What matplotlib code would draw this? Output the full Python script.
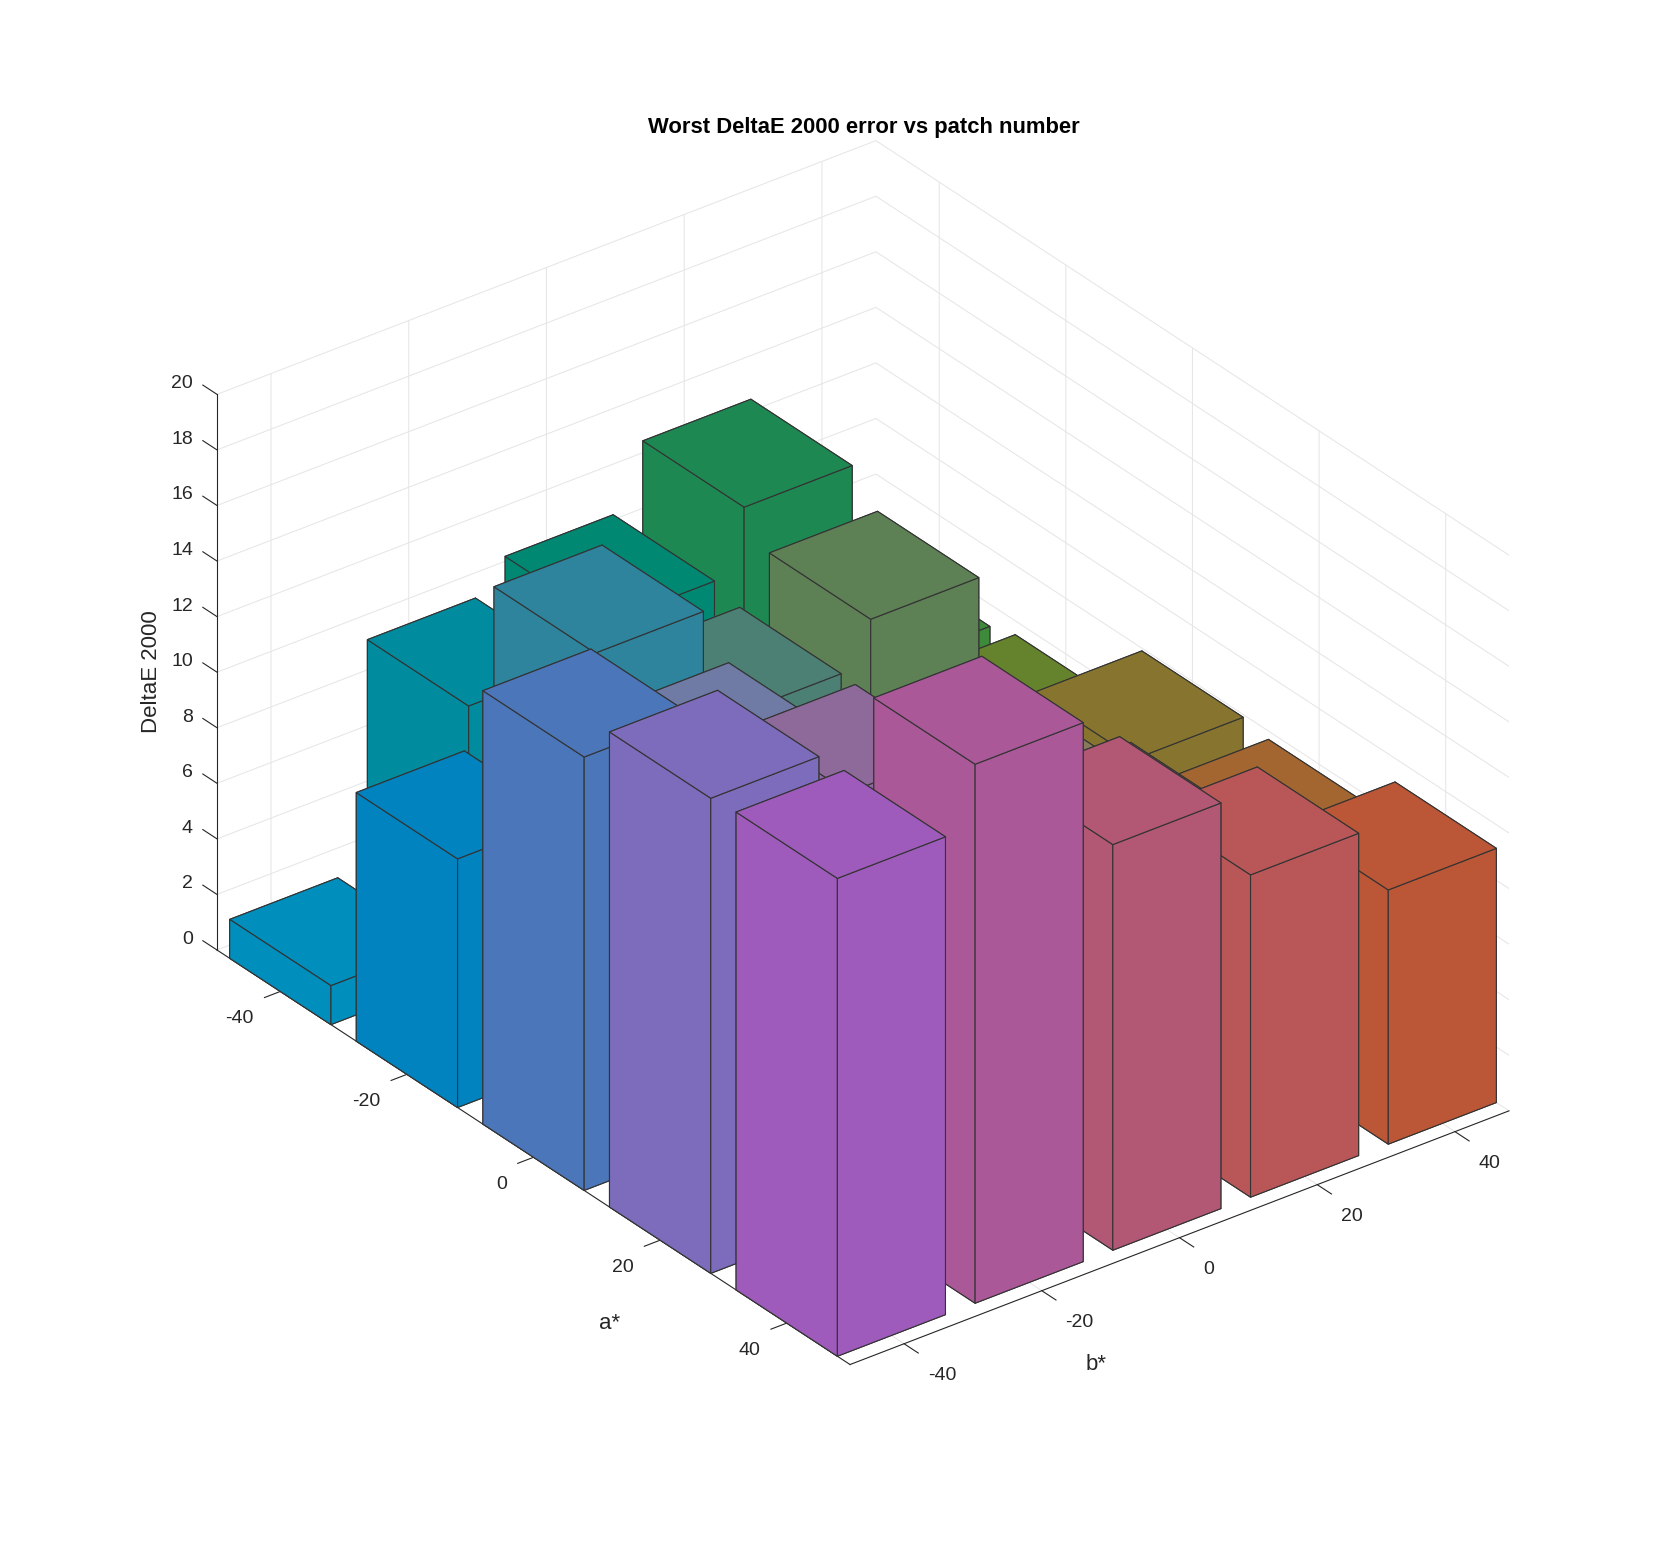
import matplotlib
matplotlib.use("Agg")
import matplotlib.pyplot as plt
import matplotlib.transforms as mtrans
from mpl_toolkits.mplot3d import proj3d

# ---- data ----
a_labels = ["-40", "-20", "0", "20", "40"]
b_labels = ["-40", "-20", "0", "20", "40"]
z_ticks = list(range(0, 21, 2))
a_centers = [-40, -20, 0, 20, 40]
b_centers = [-41.8, -20.9, 0, 20.9, 41.8]
title = "Worst DeltaE 2000 error vs patch number"

# rows: a*, columns: b*
delta_a_m40 = [1.4, 9.56, 10.65, 12.9, 5.2]
delta_a_m20 = [8.95, 14.45, 10.3, 11.85, 5.5]
delta_a_0 = [15.6, 13.2, 9.0, 8.5, 7.9]
delta_a_20 = [17.1, 15.4, 9.5, 9.5, 7.7]
delta_a_40 = [17.2, 19.4, 14.6, 11.6, 9.15]
delta = [delta_a_m40, delta_a_m20, delta_a_0, delta_a_20, delta_a_40]

col_a_m40 = ["#008EBC", "#008C9E", "#008873", "#1E8853", "#3D8A3A"]
col_a_m20 = ["#0083BE", "#2E839D", "#4D8074", "#5E8055", "#65822C"]
col_a_0 = ["#4B76B9", "#6F7AA5", "#7D7A80", "#867A5A", "#87752F"]
col_a_20 = ["#7C6CBB", "#8D6A9A", "#9A6878", "#A3665A", "#A36631"]
col_a_40 = ["#9E5BBB", "#AB5899", "#B25774", "#B95758", "#BB5636"]
colors = [col_a_m40, col_a_m20, col_a_0, col_a_20, col_a_40]

W, H, DPI = 1668, 1559, 100
INK = "#262626"
plt.rcParams.update({
    "font.family": ["Liberation Sans", "DejaVu Sans"],
    "axes.unicode_minus": False,
    "axes.edgecolor": INK,
    "axes.linewidth": 0.8,
    "grid.color": "#e6e6e6",
    "grid.linewidth": 0.75,
    "xtick.color": INK, "ytick.color": INK,
    "xtick.major.width": 0.8, "ytick.major.width": 0.8,
})

fig = plt.figure(figsize=(W / DPI, H / DPI), dpi=DPI, facecolor="white")
ax = fig.add_axes([0, 0, H / W, 1], projection="3d", proj_type="ortho",
                  computed_zorder=False)
ax.view_init(elev=30.14, azim=-37.48)
ax.set_box_aspect((978, 780.6, 604))
ax.set_xlim(-50, 50)
ax.set_ylim(-50, 50)
ax.set_zlim(0, 20)


def px(x, y, z):
    ax.apply_aspect()
    u, v, _ = proj3d.proj_transform(x, y, z, ax.get_proj())
    return ax.transData.transform((u, v))


# place the box so that its left and right floor corners land where wanted
left_target = (217.0, H - 950.0)
right_target = (1509.0, H - 1110.6)
p0, p1 = px(-50, -50, 0), px(50, 50, 0)
side = H * (right_target[0] - left_target[0]) / (p1[0] - p0[0])
ax.set_position([0, 0, side / W, side / H])
p0 = px(-50, -50, 0)
ax.set_position([(left_target[0] - p0[0]) / W, (left_target[1] - p0[1]) / H,
                 side / W, side / H])

# bars, back to front
bar_a, bar_b = 16.0, 16.4
k = 10
for i, a in enumerate(a_centers):
    for j in range(len(b_centers) - 1, -1, -1):
        ax.bar3d(a - bar_a / 2, b_centers[j] - bar_b / 2, 0, bar_a, bar_b, delta[i][j],
                 color=colors[i][j], shade=False, edgecolor="#333333",
                 linewidth=0.8, zorder=k)
        k += 1

# axes styling
ax.set_xticks(a_centers)
ax.set_xticklabels(a_labels)
ax.set_yticks(b_centers)
ax.set_yticklabels(b_labels)
ax.set_zticks(z_ticks)
ax.grid(True)
ax.zaxis.set_ticks_position("lower")
ax.zaxis.set_label_position("lower")
ax.zaxis._get_tickdir = lambda position: 0   # z ticks run along a*, as in the reference

tick_factors = {ax.xaxis: (0.3, 0.0), ax.yaxis: (0.28, 0.0), ax.zaxis: (0.0, 0.28)}
for axis, (fin, fout) in tick_factors.items():
    axis.pane.set_visible(False)
    axis._axinfo["tick"]["inward_factor"] = fin
    axis._axinfo["tick"]["outward_factor"] = fout
for name in ("x", "y", "z"):
    # pad -8 cancels the built-in offset: labels start from the tick's axis point
    ax.tick_params(axis=name, labelsize=14, labelcolor=INK, color=INK, pad=-8)


def shift_tick_labels(axis, dx, dy, ha):
    trans = ax.transData + mtrans.Affine2D().translate(dx, dy)
    original = axis.get_major_ticks

    def patched(numticks=None):
        ticks = original(numticks)
        for t in ticks:
            t.label1.set_transform(trans)
            t.label1.set_ha(ha)
        return ticks
    axis.get_major_ticks = patched


def shift_axis_label(axis, dx, dy):
    label = axis.label
    original = label.set_position

    def patched(xy):
        d = ax.transData.transform(xy)
        original(ax.transData.inverted().transform((d[0] + dx, d[1] + dy)))
    label.set_position = patched


shift_tick_labels(ax.xaxis, -26.6, -18.5, "right")
shift_tick_labels(ax.yaxis, 23.7, -23.0, "left")
shift_tick_labels(ax.zaxis, -24.0, 19.0, "right")

for axis in (ax.xaxis, ax.yaxis, ax.zaxis):
    axis.set_rotate_label(False)
ax.set_xlabel("a*", fontsize=16, color=INK, labelpad=-8, rotation=0)
ax.set_ylabel("b*", fontsize=16, color=INK, labelpad=-8, rotation=0)
ax.set_zlabel("DeltaE 2000", fontsize=16, color=INK, labelpad=-8, rotation=90)
shift_axis_label(ax.xaxis, 91.5, -146.8)
shift_axis_label(ax.yaxis, -99, -103)
shift_axis_label(ax.zaxis, -34, -3)

tx, ty = ax.transAxes.inverted().transform((864, H - 127.5))
ax.set_title(title, fontsize=15.8, fontweight="bold", color="black", x=tx, y=ty, va="center", pad=0)
ax.title.set_y(ty)

fig.savefig("out.png", dpi=DPI, facecolor="white")
